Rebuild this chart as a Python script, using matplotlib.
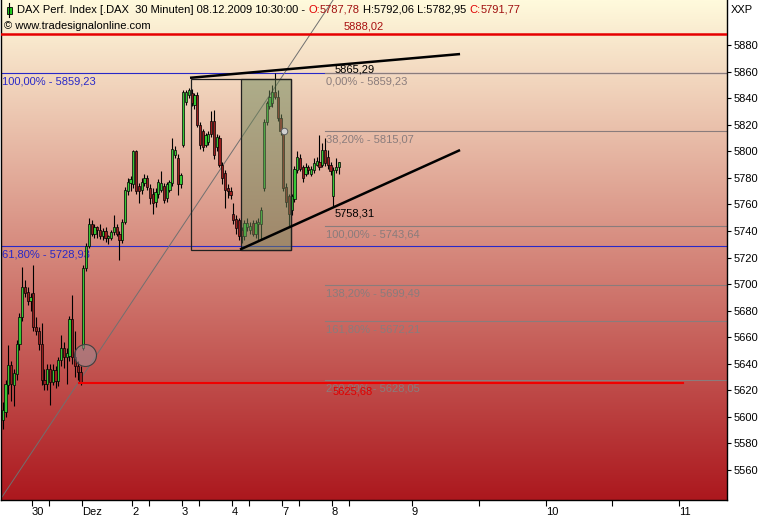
import numpy as np
import matplotlib.pyplot as plt
from matplotlib.patches import Rectangle
from matplotlib.transforms import IdentityTransform

plt.rcParams['font.family'] = ['Liberation Sans', 'DejaVu Sans']
FS = 8

# 30 minute bars, 18 per session: Nov 27 (partial) ... Dec 8 10:30
day_labels = ["30", "Dez", "2", "3", "4", "7", "8"]
bars_per_day = 18
first_full_day = 11          # index of first bar of Nov 30
future_labels = ["9", "10", "11"]

opens = [5598, 5604, 5624, 5639, 5624, 5632, 5655, 5675, 5698, 5694, 5687,
         5693, 5668, 5665, 5655, 5628, 5625, 5636, 5626, 5635, 5627, 5643, 5652, 5645, 5646, 5674, 5645, 5638, 5634,
         5652, 5712, 5729, 5745, 5738, 5743, 5741, 5736, 5740, 5735, 5735, 5739, 5743, 5738, 5733, 5747, 5770, 5776,
         5775, 5800, 5774, 5771, 5776, 5780, 5772, 5768, 5762, 5768, 5771, 5774, 5765, 5771, 5776, 5797, 5795, 5775,
         5805, 5837, 5842, 5844, 5835, 5842, 5820, 5815, 5805, 5807, 5823, 5823, 5803, 5810, 5790, 5784, 5772, 5770,
         5753, 5749, 5748, 5741, 5736, 5743, 5741, 5746, 5738, 5745, 5745, 5772, 5822, 5834, 5836, 5845, 5841, 5825,
         5813, 5773, 5766, 5756, 5764, 5786, 5795, 5788, 5783, 5788, 5783, 5786, 5790, 5792, 5790, 5801, 5796, 5790,
         5766, 5786, 5787.78]
highs = [5611, 5628, 5654, 5642, 5636, 5658, 5678, 5713, 5703, 5698, 5693,
         5714, 5675, 5668, 5671, 5636, 5640, 5640, 5640, 5638, 5645, 5662, 5656, 5652, 5676, 5692, 5665, 5642, 5638,
         5714, 5731, 5750, 5748, 5745, 5744, 5745, 5742, 5743, 5737, 5741, 5752, 5745, 5740, 5749, 5773, 5780, 5781,
         5801, 5801, 5776, 5780, 5783, 5782, 5775, 5772, 5772, 5779, 5785, 5776, 5777, 5778, 5810, 5804, 5798, 5784,
         5846, 5846, 5848, 5847, 5844, 5845, 5822, 5817, 5814, 5815, 5830, 5831, 5813, 5812, 5792, 5786, 5775, 5773,
         5761, 5752, 5750, 5743, 5748, 5750, 5747, 5748, 5748, 5750, 5758, 5824, 5838, 5846, 5850, 5859.23, 5846, 5828,
         5816, 5776, 5768, 5768, 5789, 5800, 5798, 5790, 5791, 5790, 5789, 5795, 5796, 5812, 5806, 5810, 5801, 5792,
         5788, 5795, 5792.06]
lows = [5591, 5600, 5617, 5612, 5608, 5628, 5650, 5672, 5690, 5684, 5680,
        5665, 5662, 5650, 5624, 5620, 5620, 5609, 5624, 5622, 5623, 5638, 5637, 5625, 5642, 5640, 5630, 5628, 5624,
        5650, 5710, 5727, 5736, 5735, 5735, 5734, 5733, 5732, 5730, 5733, 5737, 5736, 5718, 5731, 5745, 5767, 5770,
        5772, 5768, 5761, 5768, 5774, 5771, 5760, 5753, 5758, 5765, 5769, 5761, 5762, 5769, 5774, 5795, 5767, 5772,
        5803, 5835, 5840, 5834, 5832, 5818, 5802, 5800, 5803, 5805, 5811, 5794, 5800, 5788, 5775, 5757, 5765, 5764,
        5745, 5738, 5733, 5731, 5733, 5740, 5738, 5736, 5735, 5733, 5734, 5770, 5820, 5832, 5833, 5839, 5823, 5812,
        5770, 5758, 5743.64, 5752, 5762, 5784, 5785, 5777, 5781, 5783, 5781, 5784, 5789, 5786, 5788, 5789, 5787, 5782,
        5758.31, 5784, 5782.95]
closes = [5605, 5625, 5639, 5625, 5633, 5655, 5675, 5698, 5693, 5687, 5690,
          5668, 5665, 5655, 5628, 5625, 5636, 5626, 5635, 5627, 5643, 5652, 5645, 5648, 5674, 5645, 5638, 5634, 5626,
          5712, 5729, 5745, 5738, 5743, 5741, 5736, 5740, 5735, 5736, 5739, 5743, 5738, 5733, 5747, 5771, 5777, 5779,
          5800, 5770, 5770, 5777, 5780, 5773, 5765, 5761, 5769, 5777, 5776, 5763, 5775, 5777, 5802, 5801, 5775, 5782,
          5845, 5845, 5846, 5836, 5842, 5820, 5805, 5803, 5812, 5813, 5813, 5797, 5811, 5790, 5780, 5771, 5770, 5767,
          5748, 5742, 5736, 5736, 5746, 5746, 5744, 5738, 5746, 5747, 5756, 5822, 5836, 5841, 5845, 5841, 5825, 5815,
          5772, 5762, 5753, 5766, 5787, 5796, 5787, 5780, 5788, 5786, 5787, 5791, 5793, 5788, 5801, 5791, 5790, 5785,
          5786, 5788, 5791.77]

# drawing tools (bar index, price)
fib_pct = ["0,00%", "38,20%", "100,00%", "138,20%", "161,80%", "200,00%"]
fib_levels = [5859.23, 5815.07, 5743.64, 5699.49, 5672.21, 5628.05]
blue_pct = ["100,00%", "61,80%"]
blue_levels = [5859.23, 5728.93]
top_line = 5888.02
support_line = 5625.68
support_span = [27.4, 244.9]
upper_trend_x, upper_trend_y = [67.4, 164.6], [5855.3, 5873.2]
lower_trend_x, lower_trend_y = [85.4, 164.6], [5726.0, 5800.9]
diag_x, diag_y = [-0.3, 118.9], [5539.6, 5913.9]
box_outer = [67.6, 103.6, 5725.3, 5854.4]
box_inner = [85.6, 103.6, 5725.3, 5854.4]
circle_big = [29.6, 5646.6]
circle_small = [101.3, 5814.9]
peak_label = [119.6, 5861.2, "5865,29"]

XMIN, XMAX = -0.65, 260.7
YMIN, YMAX = 5537.4, 5913.9


def de(v):
    return f"{v:.2f}".replace('.', ',')


fig = plt.figure(figsize=(7.69, 5.20), dpi=100)
ax = fig.add_axes([1 / 769, 20 / 520, 726 / 769, 500 / 520])

# background gradient
top = np.array([255, 250, 220]) / 255
bot = np.array([172, 24, 30]) / 255
t = np.linspace(0, 1, 256)[:, None, None]
img = top + (bot - top) * t
ax.imshow(img, extent=[XMIN, XMAX, YMIN, YMAX], aspect='auto', origin='upper', zorder=0)

# blue retracement
for lvl, pct in zip(blue_levels, blue_pct):
    ax.axhline(lvl, color='#2828c8', lw=0.8, zorder=1)
    ax.annotate(f"{pct} - {de(lvl)}", (XMIN, lvl), xytext=(0.5, -2.5),
                textcoords='offset points', va='top', ha='left', fontsize=FS,
                color='#2828c8', zorder=1)

# grey fibonacci extension
fib_start = 116.0
for lvl, pct in zip(fib_levels, fib_pct):
    ax.plot([fib_start, XMAX], [lvl, lvl], color='#8a7c7c', lw=0.8, zorder=1)
    ax.annotate(f"{pct} - {de(lvl)}", (fib_start, lvl), xytext=(0.5, -2.5),
                textcoords='offset points', va='top', ha='left', fontsize=FS,
                color='#8a7c7c', zorder=1)

# diagonal
ax.plot(diag_x, diag_y, color='#707070', lw=0.7, zorder=2)

# candles
o = np.array(opens, float)
h = np.array(highs, float)
l = np.array(lows, float)
c = np.array(closes, float)
x = np.arange(len(c))
up = c >= o
ax.vlines(x, l, h, color='black', lw=0.8, zorder=3)
ax.bar(x[up], np.maximum(c - o, 0.8)[up], bottom=o[up], width=0.8,
       color='#36c836', edgecolor='black', lw=0.5, zorder=4)
ax.bar(x[~up], np.maximum(o - c, 0.8)[~up], bottom=c[~up], width=0.8,
       color='#9a1e1e', edgecolor='black', lw=0.5, zorder=4)

# boxes
x0, x1, y0, y1 = box_outer
ax.add_patch(Rectangle((x0, y0), x1 - x0, y1 - y0, fill=False, ec='#202020', lw=0.9, zorder=5))
x0, x1, y0, y1 = box_inner
ax.add_patch(Rectangle((x0, y0), x1 - x0, y1 - y0, fc=(0.42, 0.52, 0.34, 0.5),
                       ec='#202020', lw=0.9, zorder=5))

# red lines
ax.axhline(top_line, color='#e60000', lw=1.8, zorder=6)
ax.text(122.5, top_line + 2.5, de(top_line), color='#a81010',
        fontsize=FS, va='bottom', ha='left', zorder=6)
ax.plot(support_span, [support_line] * 2, color='#f00000', lw=1.5, zorder=6)
ax.annotate(de(support_line), (118.8, support_line), xytext=(0, -2.5),
            textcoords='offset points', va='top', ha='left', fontsize=FS, color='#e00000', zorder=6)

# trendlines
ax.plot(upper_trend_x, upper_trend_y, color='black', lw=1.8, zorder=7, solid_capstyle='butt')
ax.plot(lower_trend_x, lower_trend_y, color='black', lw=1.8, zorder=7, solid_capstyle='butt')
ax.text(peak_label[0], peak_label[1], peak_label[2], fontsize=FS, va='center', ha='left', zorder=7)
low_i = int(np.argmin(l[110:])) + 110
ax.annotate(de(l[low_i]), (low_i, l[low_i]), xytext=(1, -1),
            textcoords='offset points', va='top', ha='left', fontsize=FS, zorder=7)

# markers
ax.scatter([circle_big[0]], [circle_big[1]], s=250, fc=(0.62, 0.55, 0.58, 0.55),
           ec='#404040', lw=0.8, zorder=8)
ax.scatter([circle_small[0]], [circle_small[1]], s=22, fc='#d0d0d0', ec='#606060',
           lw=0.7, zorder=8)

ax.set_xlim(XMIN, XMAX)
ax.set_ylim(YMIN, YMAX)

# axes / ticks
ax.spines['top'].set_visible(False)
for s in ['left', 'right', 'bottom']:
    ax.spines[s].set_color('black')
    ax.spines[s].set_linewidth(1.0)

ax.yaxis.tick_right()
yt = np.arange(5560, 5881, 20)
ax.set_yticks(yt)
ax.set_yticklabels([str(v) for v in yt], fontsize=FS)
ax.tick_params(axis='y', direction='out', length=3, pad=2, width=0.8)

starts = [first_full_day - 0.5 + k * bars_per_day for k in range(len(day_labels))]
future = [147.3, 195.5, 243.4]
ax.set_xticks(starts + future)
ax.set_xticklabels(day_labels + future_labels, fontsize=FS, ha='left')
mids = [s + 6 for i, s in enumerate(starts) if i != 1] + [171.4, 219.3]
ax.set_xticks(mids, minor=True)
ax.tick_params(axis='x', which='both', direction='out', length=4, pad=1, width=0.8)

# header
tr = IdentityTransform()
fig.canvas.draw()
rend = fig.canvas.get_renderer()
parts = [("DAX Perf. Index [.DAX  30 Minuten] 08.12.2009 10:30:00 -", 'black', 3),
         ("O:", '#e00000', 0), ("5787,78", '#a01010', 3),
         ("H:5792,06 L:5782,95", 'black', 3),
         ("C:", '#e00000', 0), ("5791,77", '#a01010', 0)]
px = 17
for txt, col, gap in parts:
    tt = fig.text(px, 520 - 10, txt, color=col, fontsize=FS, va='center', ha='left', transform=tr)
    px = tt.get_window_extent(rend).x1 + gap
fig.text(4, 520 - 26, "\u00a9 www.tradesignalonline.com", fontsize=FS, va='center',
         ha='left', transform=tr)
fig.text(731, 520 - 10, "XXP", fontsize=FS, va='center', ha='left', transform=tr)
# small candle icon
fig.add_artist(plt.Line2D([9, 9], [520 - 3, 520 - 17], color='black', lw=0.8, transform=tr))
fig.add_artist(Rectangle((6.5, 520 - 14), 5, 7, fc='#20d020', ec='black', lw=0.6, transform=tr))

fig.savefig("out.png", dpi=100)
